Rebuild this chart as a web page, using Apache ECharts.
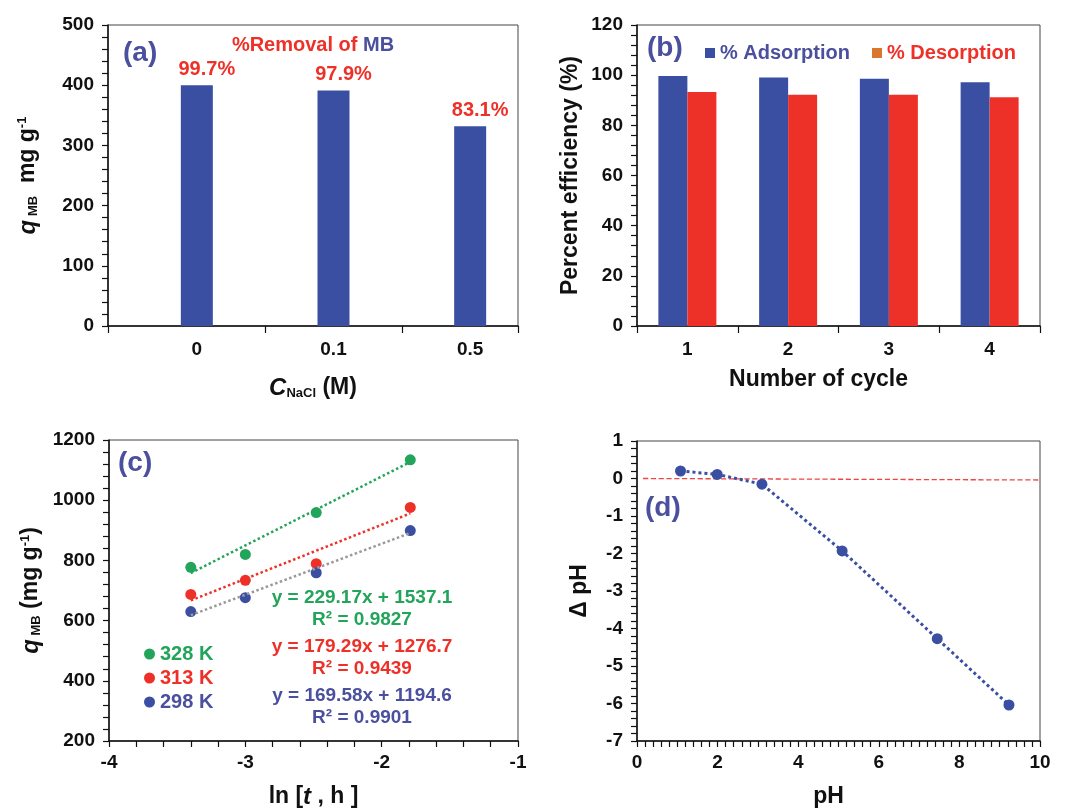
<!DOCTYPE html>
<html>
<head>
<meta charset="utf-8">
<script src="https://cdn.jsdelivr.net/npm/echarts@6/dist/echarts.min.js"></script>
<style>html,body{margin:0;padding:0;background:#fff}#main{width:1069px;height:812px}</style>
</head>
<body>
<div id="main"></div>
<script>
// ---------- data ----------
// (a)
const naclCategories = ['0', '0.1', '0.5'];
const qmbValues = [400, 391, 332];
const removalLabels = ['99.7%', '97.9%', '83.1%'];
// (b)
const cycleCategories = ['1', '2', '3', '4'];
const adsorption = [99.7, 99.1, 98.6, 97.2];
const desorption = [93.3, 92.2, 92.2, 91.2];
// (c)
const lnT = [-3.40, -3.00, -2.48, -1.79];
const q328 = [777, 820, 959, 1134];
const q313 = [687, 734, 789, 976];
const q298 = [630, 676, 759, 899];
const fitX = [-3.40, -1.79];
const fit328 = [758, 1127];
const fit313 = [667, 956];
const fit298 = [618, 891];
const eq328 = ['y = 229.17x + 1537.1', 'R² = 0.9827'];
const eq313 = ['y = 179.29x + 1276.7', 'R² = 0.9439'];
const eq298 = ['y = 169.58x + 1194.6', 'R² = 0.9901'];
// (d)
const phInitial = [1.08, 1.99, 3.10, 5.09, 7.45, 9.23];
const deltaPh = [0.20, 0.11, -0.15, -1.93, -4.27, -6.04];
const zeroLineX = [0.15, 10];
const zeroLineY = [0, -0.04];

// ---------- style ----------
const FONT = "'Liberation Sans', Arial, sans-serif";
const BLUE = '#3a4fa2';
const RED = '#ee3128';
const GREEN = '#22a45a';
const TXTBLUE = '#4a4f9e';
const TICK = {fontFamily: FONT, fontWeight: 'bold', fontSize: 19, color: '#111', formatter: v => String(v)};
const axisLine = {show: true, onZero: false, lineStyle: {color: '#111', width: 1.5}};
const axisTick = {show: true, length: 6, lineStyle: {color: '#111', width: 1.2}};
const minorTick = {show: true, length: 6, splitNumber: 5, lineStyle: {color: '#111', width: 1.2}};
const nameRich = {
  n: {fontFamily: FONT, fontWeight: 'bold', fontSize: 23, color: '#111'},
  i: {fontFamily: FONT, fontWeight: 'bold', fontStyle: 'italic', fontSize: 24, color: '#111'},
  s: {fontFamily: FONT, fontWeight: 'bold', fontSize: 13, color: '#111', verticalAlign: 'bottom', padding: [8, 0, 0, 0]},
  p: {fontFamily: FONT, fontWeight: 'bold', fontSize: 13, color: '#111', verticalAlign: 'top', padding: [0, 0, 10, 0]}
};
function zip(xs, ys) { return xs.map((x, i) => [x, ys[i]]); }

const grids = [
  {left: 108, top: 25, width: 410, height: 301},
  {left: 637, top: 25, width: 403, height: 301},
  {left: 109, top: 440, width: 409, height: 301},
  {left: 637, top: 441, width: 403, height: 300}
].map(g => Object.assign({show: true, borderColor: '#444', borderWidth: 1, backgroundColor: 'transparent', containLabel: false}, g));

function textEl(x, y, text, color, size, align) {
  return {type: 'text', left: x, top: y, style: {text: text, fill: color, font: 'bold ' + size + 'px ' + FONT, textAlign: align || 'left'}};
}

const eqTexts = [];
[[eq328, GREEN, 588], [eq313, RED, 637], [eq298, TXTBLUE, 686]].forEach(([eq, c, y]) => {
  eqTexts.push({type: 'text', x: 362, y: y, style: {text: eq[0], fill: c, font: 'bold 19px ' + FONT, textAlign: 'center'}});
  eqTexts.push({type: 'text', x: 362, y: y + 22, style: {text: eq[1], fill: c, font: 'bold 19px ' + FONT, textAlign: 'center'}});
});

// category index positions of panel (a) bars (axis runs from -0.65 to 2.35 in category units)
const naclIdx = naclCategories.map((c, i) => i);

const option = {
  animation: false,
  backgroundColor: '#fff',
  grid: grids,
  xAxis: [
    {gridIndex: 0, type: 'value', min: -0.65, max: naclCategories.length - 0.65, axisLine, splitLine: {show: false},
     axisTick: Object.assign({}, axisTick, {length: 7, customValues: [-0.65, 0.5, 1.5, naclCategories.length - 0.65]}),
     axisLabel: Object.assign({}, TICK, {margin: 14, customValues: naclIdx, formatter: v => naclCategories[Math.round(v)]}),
     name: '{i|C}{s|NaCl}{n| (M)}', nameLocation: 'middle', nameGap: 50, nameTextStyle: {rich: nameRich}},
    {gridIndex: 1, type: 'category', data: cycleCategories, axisLine, axisTick: Object.assign({}, axisTick, {length: 7}),
     axisLabel: Object.assign({}, TICK, {margin: 14}),
     name: 'Number of cycle', nameLocation: 'middle', nameGap: 42,
     nameTextStyle: {fontFamily: FONT, fontWeight: 'bold', fontSize: 23, color: '#111', padding: [0, 40, 0, 0]}},
    {gridIndex: 2, type: 'value', min: -4, max: -1, interval: 1, axisLine, axisTick, minorTick, splitLine: {show: false},
     axisLabel: Object.assign({}, TICK, {margin: 12}),
     name: '{n|ln [}{i|t}{n| , h ]}', nameLocation: 'middle', nameGap: 44, nameTextStyle: {rich: nameRich}},
    {gridIndex: 3, type: 'value', min: 0, max: 10, interval: 2, axisLine, axisTick,
     minorTick: Object.assign({}, minorTick, {splitNumber: 10}), splitLine: {show: false},
     axisLabel: Object.assign({}, TICK, {margin: 12}),
     name: 'pH', nameLocation: 'middle', nameGap: 44,
     nameTextStyle: {fontFamily: FONT, fontWeight: 'bold', fontSize: 23, color: '#111', padding: [0, 20, 0, 0]}}
  ],
  yAxis: [
    {gridIndex: 0, type: 'value', min: 0, max: 500, interval: 100, axisLine, axisTick, minorTick, splitLine: {show: false},
     axisLabel: Object.assign({}, TICK, {margin: 14}),
     name: '{i|q}{s| MB}{n|  mg g}{p|-1}', nameLocation: 'middle', nameRotate: 90, nameGap: 68, nameTextStyle: {rich: nameRich}},
    {gridIndex: 1, type: 'value', min: 0, max: 120, interval: 20, axisLine, axisTick, minorTick, splitLine: {show: false},
     axisLabel: Object.assign({}, TICK, {margin: 14}),
     name: 'Percent efficiency (%)', nameLocation: 'middle', nameRotate: 90, nameGap: 55,
     nameTextStyle: {fontFamily: FONT, fontWeight: 'bold', fontSize: 23, color: '#111'}},
    {gridIndex: 2, type: 'value', min: 200, max: 1200, interval: 200, axisLine, axisTick, minorTick, splitLine: {show: false},
     axisLabel: Object.assign({}, TICK, {margin: 14}),
     name: '{i|q}{s| MB}{n| (mg g}{p|-1}{n|)}', nameLocation: 'middle', nameRotate: 90, nameGap: 66, nameTextStyle: {rich: nameRich}},
    {gridIndex: 3, type: 'value', min: -7, max: 1, interval: 1, axisLine, axisTick, minorTick, splitLine: {show: false},
     axisLabel: Object.assign({}, TICK, {margin: 14}),
     name: 'Δ pH', nameLocation: 'middle', nameRotate: 90, nameGap: 46,
     nameTextStyle: {fontFamily: FONT, fontWeight: 'bold', fontSize: 23, color: '#111'}}
  ],
  legend: [
    {show: true, left: 700, top: 38, itemWidth: 10, itemHeight: 10, itemGap: 22, icon: 'rect',
     data: [
       {name: '% Adsorption', itemStyle: {color: BLUE}, textStyle: {color: TXTBLUE}},
       {name: '% Desorption', itemStyle: {color: '#d9772e'}, textStyle: {color: RED}}
     ],
     textStyle: {fontFamily: FONT, fontWeight: 'bold', fontSize: 20, padding: [0, 0, 0, 0]}},
    {show: true, left: 139, top: 639, orient: 'vertical', itemWidth: 11, itemHeight: 11, itemGap: 4, icon: 'circle',
     data: [
       {name: '328 K', textStyle: {color: GREEN}},
       {name: '313 K', textStyle: {color: RED}},
       {name: '298 K', textStyle: {color: TXTBLUE}}
     ],
     textStyle: {fontFamily: FONT, fontWeight: 'bold', fontSize: 20}}
  ],
  graphic: [
    textEl(123, 39, '(a)', TXTBLUE, 28),
    {type: 'text', x: 313, y: 35, style: {text: '{r|%Removal of }{b|MB}', textAlign: 'center',
      rich: {r: {fill: RED, font: 'bold 20px ' + FONT}, b: {fill: TXTBLUE, font: 'bold 20px ' + FONT}}}},
    textEl(647, 34, '(b)', TXTBLUE, 28),
    textEl(118, 449, '(c)', TXTBLUE, 28),
    textEl(645, 494, '(d)', TXTBLUE, 28)
  ].concat(eqTexts),
  series: [
    {type: 'bar', xAxisIndex: 0, yAxisIndex: 0, data: zip(naclIdx, qmbValues), barWidth: 32, itemStyle: {color: BLUE},
     label: {show: true, position: 'top', distance: 6, offset: [10, 0], formatter: p => removalLabels[p.dataIndex],
       fontFamily: FONT, fontWeight: 'bold', fontSize: 20, color: RED}},
    {name: '% Adsorption', type: 'bar', xAxisIndex: 1, yAxisIndex: 1, data: adsorption, barWidth: 29, barGap: '0%', itemStyle: {color: BLUE}},
    {name: '% Desorption', type: 'bar', xAxisIndex: 1, yAxisIndex: 1, data: desorption, barWidth: 29, barGap: '0%', itemStyle: {color: RED}},
    {type: 'line', xAxisIndex: 2, yAxisIndex: 2, data: zip(fitX, fit328), symbol: 'none', lineStyle: {color: GREEN, type: 'dotted', width: 2.5}},
    {type: 'line', xAxisIndex: 2, yAxisIndex: 2, data: zip(fitX, fit313), symbol: 'none', lineStyle: {color: RED, type: 'dotted', width: 2.5}},
    {type: 'line', xAxisIndex: 2, yAxisIndex: 2, data: zip(fitX, fit298), symbol: 'none', lineStyle: {color: '#999', type: 'dotted', width: 2.5}},
    {name: '328 K', type: 'scatter', xAxisIndex: 2, yAxisIndex: 2, data: zip(lnT, q328), symbolSize: 11, itemStyle: {color: GREEN, opacity: 1}},
    {name: '313 K', type: 'scatter', xAxisIndex: 2, yAxisIndex: 2, data: zip(lnT, q313), symbolSize: 11, itemStyle: {color: RED, opacity: 1}},
    {name: '298 K', type: 'scatter', xAxisIndex: 2, yAxisIndex: 2, data: zip(lnT, q298), symbolSize: 11, itemStyle: {color: BLUE, opacity: 1}},
    {type: 'line', xAxisIndex: 3, yAxisIndex: 3, data: zip(zeroLineX, zeroLineY), symbol: 'none', lineStyle: {color: '#ee4444', type: 'dashed', width: 1.3}},
    {type: 'line', xAxisIndex: 3, yAxisIndex: 3, data: zip(phInitial, deltaPh), symbol: 'circle', symbolSize: 11,
     itemStyle: {color: BLUE}, lineStyle: {color: BLUE, type: 'dotted', width: 3}}
  ]
};
const chart = echarts.init(document.getElementById('main'));
chart.setOption(option);
</script>
</body>
</html>
